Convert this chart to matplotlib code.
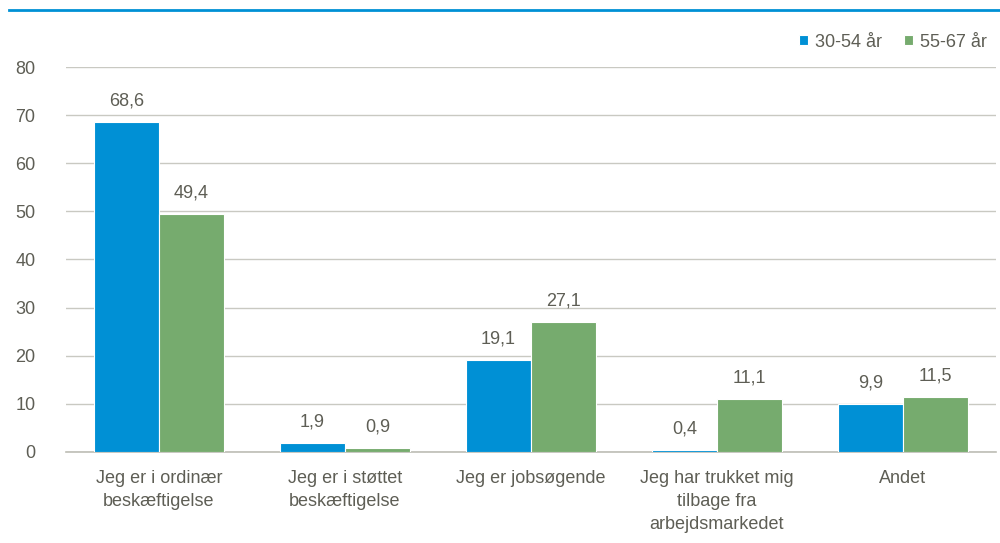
import matplotlib
matplotlib.use("Agg")
import matplotlib.pyplot as plt
import numpy as np

categories = ["Jeg er i ordinær\nbeskæftigelse", "Jeg er i støttet\nbeskæftigelse",
              "Jeg er jobsøgende", "Jeg har trukket mig\ntilbage fra\narbejdsmarkedet", "Andet"]
series_names = ["30-54 år", "55-67 år"]
values_young = [68.6, 1.9, 19.1, 0.4, 9.9]
values_old = [49.4, 0.9, 27.1, 11.1, 11.5]
yticks = [0, 10, 20, 30, 40, 50, 60, 70, 80]

blue = "#0090D5"
green = "#76AB6E"
txt = "#5E5E55"
grid = "#C9C9C2"

plt.rcParams['font.family'] = ['Liberation Sans', 'DejaVu Sans']
fs = 13

fig = plt.figure(figsize=(10, 5.43), dpi=100)
ax = fig.add_axes([0.066, 0.1676, 0.930, 0.709])

x = np.arange(len(categories))
w = 0.35
b1 = ax.bar(x - w / 2, values_young, w, color=blue, edgecolor="white", linewidth=0.8, label=series_names[0], zorder=3)
b2 = ax.bar(x + w / 2, values_old, w, color=green, edgecolor="white", linewidth=0.8, label=series_names[1], zorder=3)

for bars, vals in ((b1, values_young), (b2, values_old)):
    for r, v in zip(bars, vals):
        ax.annotate(f"{v:.1f}".replace(".", ","), (r.get_x() + r.get_width() / 2, v),
                    xytext=(0, 9), textcoords="offset points", ha="center", va="bottom",
                    fontsize=fs, color=txt)

ax.set_xlim(-0.5, len(categories) - 0.5)
ax.set_ylim(0, 80)
ax.set_yticks(yticks)
ax.set_xticks(x)
ax.set_xticklabels(categories, fontsize=fs, color=txt, linespacing=1.45)
ax.tick_params(axis='y', labelsize=fs, labelcolor=txt, length=0, pad=22)
ax.tick_params(axis='x', length=0, pad=13)
ax.yaxis.grid(True, color=grid, linewidth=1, zorder=0)
ax.set_axisbelow(True)
for s in ("top", "right", "left"):
    ax.spines[s].set_visible(False)
ax.spines["bottom"].set_color("#BDBDB5")
ax.spines["bottom"].set_linewidth(1.2)

leg = fig.legend(handles=[b1, b2], labels=series_names, loc="upper right",
                 bbox_to_anchor=(1.003, 0.968), ncol=2, frameon=False, fontsize=fs,
                 handlelength=0.5, handleheight=0.5, handletextpad=0.4, columnspacing=1.2,
                 labelcolor=txt)

fig.add_artist(plt.Line2D([0.009, 1.0], [1 - 10 / 543, 1 - 10 / 543], color=blue, linewidth=2,
                          transform=fig.transFigure))

fig.savefig("out.png", dpi=100)
